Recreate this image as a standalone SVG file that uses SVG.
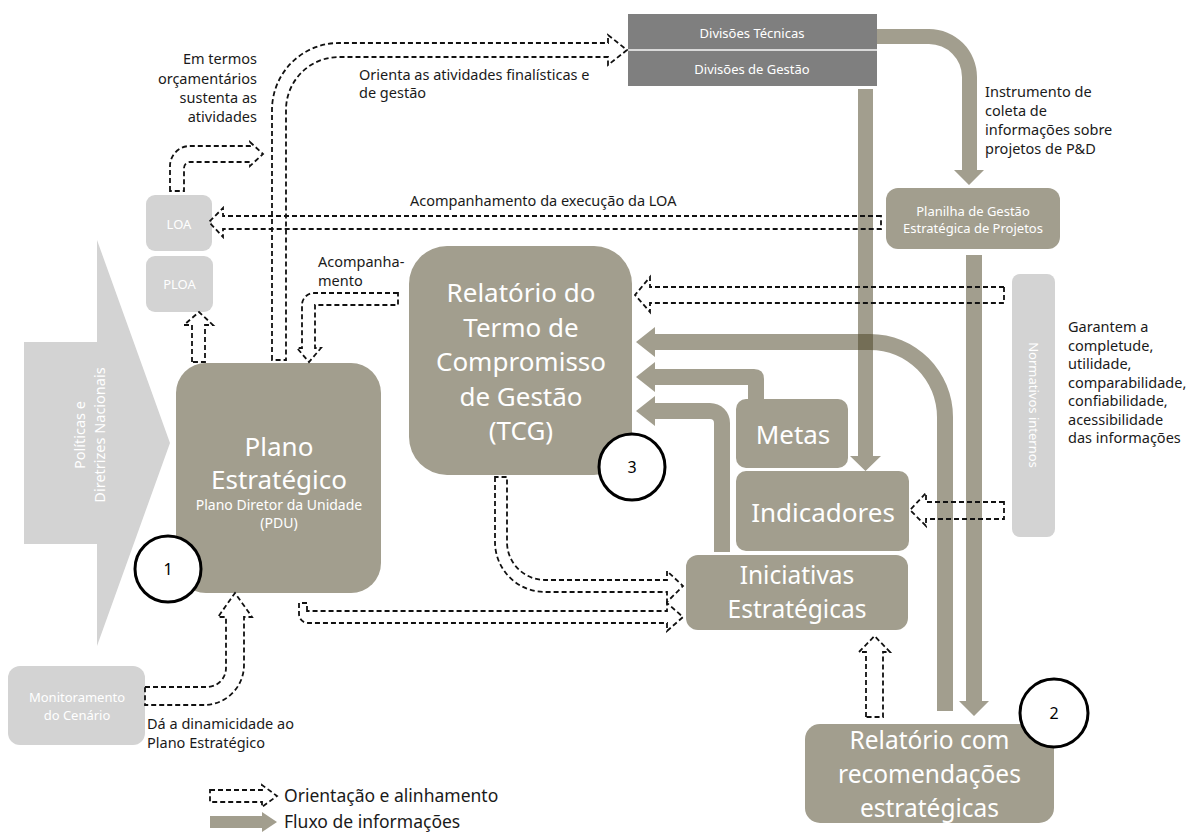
<svg xmlns="http://www.w3.org/2000/svg" width="1189" height="833" viewBox="0 0 1189 833">
<defs>
<style>
text{font-family:"Noto Sans","Open Sans","DejaVu Sans",sans-serif}
.tau{fill:#A29E8E}
.lg{fill:#D3D3D3}
.flow{fill:#453D1D;fill-opacity:0.5}
.dash{fill:none;stroke:#111;stroke-width:1.8;stroke-dasharray:5 3}
.wt{fill:#fff;text-anchor:middle}
.big{font-size:26px}
.big2{font-size:24.5px}
.lbl{fill:#1a1a1a;font-size:14.5px}
.num{fill:#000;font-size:16px;text-anchor:middle}
.circ{fill:#fff;stroke:#000;stroke-width:3}
</style>
</defs>
<rect width="1189" height="833" fill="#fff"/>

<g id="politicas">
<polygon class="lg" points="24,342 97,342 97,240 170,443 97,646 97,544 24,544"/>
<text class="wt" style="font-size:14.5px" transform="translate(0,435) rotate(-90)"><tspan x="0" y="85">Políticas e</tspan><tspan x="0" y="105">Diretrizes Nacionais</tspan></text>
</g>

<g id="loa">
<rect class="lg" x="146" y="195" width="66" height="56" rx="9"/>
<text class="wt" x="179" y="229" style="font-size:13px">LOA</text>
</g>
<g id="ploa">
<rect class="lg" x="146" y="256" width="67" height="56" rx="9"/>
<text class="wt" x="179.5" y="289" style="font-size:13px">PLOA</text>
</g>

<g id="plano">
<rect class="tau" x="176" y="363" width="205" height="230" rx="30"/>
<text class="wt big" x="279" y="456">Plano</text>
<text class="wt big" x="279" y="489">Estratégico</text>
<text class="wt" x="279" y="510" style="font-size:14px">Plano Diretor da Unidade</text>
<text class="wt" x="279" y="528" style="font-size:14px">(PDU)</text>
</g>

<g id="monitoramento">
<rect class="lg" x="8" y="666" width="137" height="79" rx="12"/>
<text class="wt" x="77" y="701.5" style="font-size:13px">Monitoramento</text>
<text class="wt" x="77" y="719.5" style="font-size:13px">do Cenário</text>
</g>

<g id="divisoes">
<rect x="628" y="14" width="249" height="72" fill="#7F7F7F"/>
<line x1="628" y1="50" x2="877" y2="50" stroke="#D9D9D9" stroke-width="2"/>
<text class="wt" x="752" y="37.5" style="font-size:13px">Divisões Técnicas</text>
<text class="wt" x="752" y="73.5" style="font-size:13px">Divisões de Gestão</text>
</g>

<g id="planilha">
<rect class="tau" x="886" y="188" width="174" height="61" rx="12"/>
<text class="wt" x="973" y="216" style="font-size:13px">Planilha de Gestão</text>
<text class="wt" x="973" y="233" style="font-size:13px">Estratégica de Projetos</text>
</g>

<g id="tcg">
<rect class="tau" x="409" y="246" width="223" height="229" rx="38"/>
<text class="wt big" x="521" y="302">Relatório do</text>
<text class="wt big" x="521" y="337">Termo de</text>
<text class="wt big" x="521" y="371">Compromisso</text>
<text class="wt big" x="521" y="406">de Gestão</text>
<text class="wt big" x="521" y="440">(TCG)</text>
</g>

<g id="metas">
<rect class="tau" x="736" y="399" width="112" height="69" rx="10"/>
<text class="wt big" x="793" y="444">Metas</text>
</g>

<g id="indicadores">
<rect class="tau" x="736" y="471" width="173" height="80" rx="10"/>
<text class="wt big" x="823" y="522">Indicadores</text>
</g>

<g id="iniciativas">
<rect class="tau" x="686" y="555" width="222" height="75" rx="12"/>
<text class="wt big2" x="797" y="584">Iniciativas</text>
<text class="wt big2" x="797" y="618">Estratégicas</text>
</g>

<g id="normativos">
<rect class="lg" x="1012" y="274" width="43" height="263" rx="8"/>
<text class="wt" style="font-size:13px" transform="translate(1034,405) rotate(90)" x="0" y="5">Normativos internos</text>
</g>

<g id="relatorio-recomendacoes">
<rect class="tau" x="805" y="724" width="249" height="99" rx="15"/>
<text class="wt big2" x="929.5" y="749">Relatório com</text>
<text class="wt big2" x="929.5" y="783">recomendações</text>
<text class="wt big2" x="929.5" y="817">estratégicas</text>
</g>

<g id="connectors">
<path class="flow" d="M 877 29 H 929 A 48 48 0 0 1 977 77 V 170 H 984 L 969 185 L 954 170 H 962 V 77 A 33 33 0 0 0 929 44 H 877 Z"/>
<path class="flow" d="M 655 334 H 870 A 83 83 0 0 1 953 417 V 711 H 937 V 417 A 67 67 0 0 0 870 350 H 655 V 357 L 636 342 L 655 327 Z"/>
<path class="flow" d="M 655 369 H 754 Q 764 369 764 379 V 399 H 748 V 385 H 655 V 392 L 636 377 L 655 362 Z"/>
<path class="flow" d="M 655 403 H 710 A 20 20 0 0 1 730 423 V 552 H 714 V 423 A 4 4 0 0 0 710 419 H 655 V 426 L 636 411 L 655 396 Z"/>
<path class="flow" d="M 858 89 H 873 V 456 H 881 L 865.5 471 L 850 456 H 858 Z"/>
<path class="flow" d="M 966 255 H 982 V 701 H 989 L 974 716 L 959 701 H 966 Z"/>

<path class="dash" d="M 272 360 V 110 A 67 67 0 0 1 339 43 H 608 V 35 L 627 50 L 608 65 V 57 H 339 A 53 53 0 0 0 286 110 V 360 Z"/>
<path class="dash" d="M 170 191 V 166 A 20 20 0 0 1 190 146 H 250 V 142 L 263 154 L 250 166 V 162 H 190 A 6 6 0 0 0 184 168 V 191 Z"/>
<path class="dash" d="M 192 362 V 325 H 184 L 199 312 L 213 325 H 205 V 362 Z"/>
<path class="dash" d="M 398 293 H 314 A 12 12 0 0 0 302 305 V 348 H 297 L 309 362 L 321 348 H 315 V 305 H 398 Z"/>
<path class="dash" d="M 881 216 H 223 V 208 L 209 222 L 223 237 V 229 H 881 Z"/>
<path class="dash" d="M 1004 287 H 650 V 277 L 635 295 L 650 312 V 303 H 1004 Z"/>
<path class="dash" d="M 1004 502 H 926 V 493 L 910 510 L 926 526 V 519 H 1004 Z"/>
<path class="dash" d="M 495 477 V 542 A 50 50 0 0 0 545 592 H 667 V 602 L 683 586 L 667 571 V 580 H 545 A 38 38 0 0 1 507 542 V 477 Z"/>
<path class="dash" d="M 307 611 V 603 H 299 V 614 A 9 9 0 0 0 308 623 H 667 V 631 L 683 617 L 667 603 V 611 Z"/>
<path class="dash" d="M 145 687 H 207 A 19 19 0 0 0 226 668 V 617 H 218 L 235 593 L 252 617 H 244 V 665 A 40 40 0 0 1 204 705 H 145 Z"/>
<path class="dash" d="M 866 717 V 652 H 859 L 874.5 636 L 890 652 H 883 V 717 Z"/>
</g>

<g id="labels">
<text class="lbl" text-anchor="end"><tspan x="257" y="64">Em termos</tspan><tspan x="257" y="84">orçamentários</tspan><tspan x="257" y="103">sustenta as</tspan><tspan x="257" y="122">atividades</tspan></text>
<text class="lbl"><tspan x="359" y="80">Orienta as atividades finalísticas e</tspan><tspan x="359" y="98">de gestão</tspan></text>
<text class="lbl" x="410" y="206">Acompanhamento da execução da LOA</text>
<text class="lbl"><tspan x="318" y="267">Acompanha-</tspan><tspan x="318" y="286">mento</tspan></text>
<text class="lbl"><tspan x="985" y="97">Instrumento de</tspan><tspan x="985" y="116">coleta de</tspan><tspan x="985" y="135">informações sobre</tspan><tspan x="985" y="154">projetos de P&amp;D</tspan></text>
<text class="lbl"><tspan x="1068" y="332">Garantem a</tspan><tspan x="1068" y="350.5">completude,</tspan><tspan x="1068" y="369">utilidade,</tspan><tspan x="1068" y="387.5">comparabilidade,</tspan><tspan x="1068" y="406">confiabilidade,</tspan><tspan x="1068" y="424.5">acessibilidade</tspan><tspan x="1068" y="443">das informações</tspan></text>
<text class="lbl"><tspan x="147" y="729">Dá a dinamicidade ao</tspan><tspan x="147" y="748">Plano Estratégico</tspan></text>
</g>

<g id="marker-1"><circle class="circ" cx="168" cy="569" r="33"/><text class="num" x="168" y="575">1</text></g>
<g id="marker-2"><circle class="circ" cx="1054" cy="713" r="34"/><text class="num" x="1054" y="719">2</text></g>
<g id="marker-3"><circle class="circ" cx="632" cy="467" r="33"/><text class="num" x="632" y="473">3</text></g>

<g id="legend">
<path class="dash" d="M 210 790 H 262 V 785 L 277 796 L 262 807 V 802 H 210 Z"/>
<text x="284" y="802" style="font-size:17.5px;fill:#1a1a1a">Orientação e alinhamento</text>
<path class="flow" d="M 210 816 H 262 V 812 L 277 822 L 262 832 V 828 H 210 Z"/>
<text x="284" y="828" style="font-size:17.5px;fill:#1a1a1a">Fluxo de informações</text>
</g>
</svg>
